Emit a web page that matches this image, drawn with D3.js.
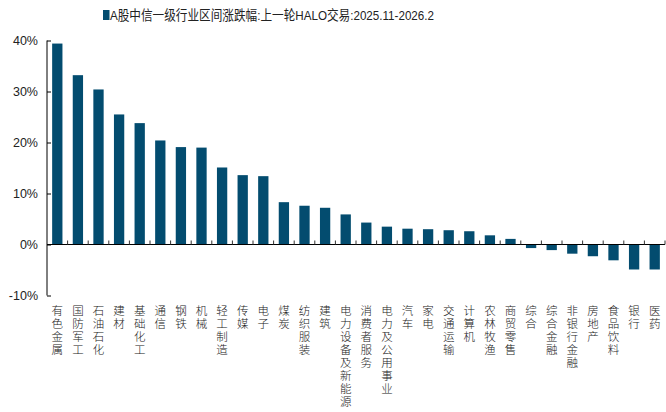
<!DOCTYPE html>
<html>
<head>
<meta charset="utf-8">
<style>
  body { margin: 0; background: #fff; }
  svg text { fill: #222; }
</style>
</head>
<body>
<svg id="chart" width="666" height="412"></svg>
<script src="https://cdnjs.cloudflare.com/ajax/libs/d3/7.8.5/d3.min.js"></script>
<script>
var titleText = "A股中信一级行业区间涨跌幅:上一轮HALO交易:2025.11-2026.2";

var industries = ["有色金属", "国防军工", "石油石化", "建材", "基础化工", "通信", "钢铁", "机械",
  "轻工制造", "传媒", "电子", "煤炭", "纺织服装", "建筑", "电力设备及新能源", "消费者服务",
  "电力及公用事业", "汽车", "家电", "交通运输", "计算机", "农林牧渔", "商贸零售", "综合",
  "综合金融", "非银行金融", "房地产", "食品饮料", "银行", "医药"];

var changes = [39.4, 33.2, 30.4, 25.5, 23.8, 20.4, 19.1, 19.0,
  15.1, 13.6, 13.4, 8.3, 7.6, 7.2, 5.9, 4.3,
  3.5, 3.1, 3.0, 2.8, 2.6, 1.8, 1.1, -0.7,
  -1.1, -1.8, -2.3, -3.1, -4.9, -4.9];

var yTicks = [-10, 0, 10, 20, 30, 40];

var svg = d3.select("#chart"),
    plotLeft = 47, plotRight = 665, plotTop = 40.5, plotBottom = 295.5;
var barColor = "#034c6f";
var cjk = "'Noto Sans CJK SC', sans-serif";
var latin = "'Liberation Sans', Arial, 'Noto Sans CJK SC', sans-serif";

var x = d3.scaleBand().domain(industries).range([plotLeft, plotRight]).paddingInner(0.5).paddingOuter(0.25);
var y = d3.scaleLinear().domain([-10, 40]).range([plotBottom, plotTop]);

// bars
svg.append("g").selectAll("rect")
  .data(industries)
  .enter().append("rect")
  .attr("x", function(d) { return x(d); })
  .attr("width", x.bandwidth())
  .attr("y", function(d, i) { return y(Math.max(0, changes[i])); })
  .attr("height", function(d, i) { return Math.abs(y(changes[i]) - y(0)); })
  .attr("fill", barColor);

// y axis
var yAxis = svg.append("g")
  .attr("transform", "translate(" + plotLeft + ",0)")
  .call(d3.axisRight(y).tickValues(yTicks).tickSize(4).tickFormat(""));
yAxis.select(".domain").attr("d", "M0," + y(-10) + "V" + y(40)).attr("stroke", "#000");
yAxis.selectAll(".tick line").attr("stroke", "#000");

svg.append("g").selectAll("text")
  .data(yTicks)
  .enter().append("text")
  .attr("x", 38)
  .attr("y", function(d) { return y(d); })
  .attr("dy", "0.36em")
  .attr("text-anchor", "end")
  .style("font-family", latin)
  .style("font-size", "12.5px")
  .text(function(d) { return d + "%"; });

// x axis at zero
var step = x.step();
var xAxis = svg.append("g");
xAxis.append("line")
  .attr("x1", plotLeft).attr("x2", plotRight)
  .attr("y1", y(0)).attr("y2", y(0))
  .attr("stroke", "#000");
xAxis.selectAll("line.tk")
  .data(d3.range(1, industries.length + 1))
  .enter().append("line")
  .attr("class", "tk")
  .attr("x1", function(i) { return plotLeft + i * step; })
  .attr("x2", function(i) { return plotLeft + i * step; })
  .attr("y1", y(0)).attr("y2", y(0) - 4)
  .attr("stroke", "#333");

// vertical category labels
svg.append("g").selectAll("text")
  .data(industries)
  .enter().append("text")
  .attr("x", function(d) { return x(d) + x.bandwidth() / 2; })
  .attr("y", 305)
  .style("writing-mode", "vertical-rl")
  .style("text-orientation", "upright")
  .style("font-family", cjk)
  .style("font-size", "11.5px")
  .style("font-weight", 300)
  .style("letter-spacing", "1.5px")
  .text(function(d) { return d; });

// legend / title
var legend = svg.append("g");
legend.append("rect").attr("x", 103).attr("y", 10).attr("width", 6.5).attr("height", 10).attr("fill", barColor);
legend.append("text")
  .attr("x", 110).attr("y", 20)
  .attr("textLength", 324)
  .attr("lengthAdjust", "spacingAndGlyphs")
  .style("font-family", latin)
  .style("font-size", "13.5px")
  .text(titleText);
</script>
</body>
</html>
